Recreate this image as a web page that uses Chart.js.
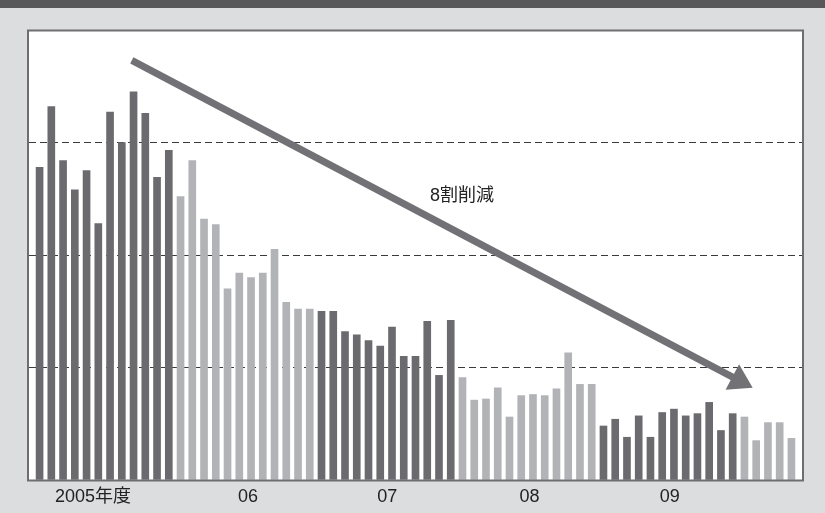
<!DOCTYPE html>
<html>
<head>
<meta charset="utf-8">
<script src="https://cdn.jsdelivr.net/npm/chart.js@4/dist/chart.umd.min.js"></script>
<style>
  html, body { margin: 0; padding: 0; background: #dcdddf; }
  #wrap { width: 825px; height: 513px; }
</style>
</head>
<body>
<div id="wrap"><canvas id="c" width="825" height="513"></canvas></div>
<script>
// Monthly counts per fiscal year (Apr–Mar); FY2010 runs through August
const fiscalYears = ['2005', '2006', '2007', '2008', '2009', '2010'];
const yearLabels = ['2005年度', '06', '07', '08', '09'];
const fy2005 = [278, 332, 284, 258, 275, 228, 327, 300, 345, 326, 269, 293];
const fy2006 = [252, 284, 232, 227, 170, 184, 180, 184, 205, 158, 152, 152];
const fy2007 = [150, 150, 132, 129, 124, 119, 136, 110, 110, 141, 93, 142];
const fy2008 = [91, 71, 72, 82, 56, 75, 76, 75, 81, 113, 85, 85];
const fy2009 = [48, 54, 38, 57, 38, 60, 63, 57, 59, 69, 44, 59];
const fy2010 = [56, 35, 51, 51, 37];
const yearSeries = [fy2005, fy2006, fy2007, fy2008, fy2009, fy2010];
const arrowLabel = '8割削減';

const DARK = '#6b6b6f';
const LIGHT = '#b2b3b7';

// one dataset per fiscal year, placed on a running month index
let monthIndex = 0;
const yearStarts = [];
const datasets = yearSeries.map((vals, k) => {
  yearStarts.push(monthIndex);
  const pts = vals.map(v => ({ x: monthIndex++, y: v }));
  return {
    label: fiscalYears[k],
    data: pts,
    backgroundColor: k % 2 === 0 ? DARK : LIGHT,
    borderWidth: 0,
    barThickness: 7,
    grouped: false
  };
});

// year label positions: middle of each fiscal year's months
const labelNudge = [-0.95, 0.25, 0.1, 0.2, 0.15];
const tickValues = yearLabels.map((_, k) => yearStarts[k] + (yearSeries[k].length - 1) / 2 + labelNudge[k]);

const FONT = "'Liberation Sans', Arial, 'Noto Sans CJK JP', sans-serif";

const framePlugin = {
  id: 'frame',
  beforeDraw(chart) {
    const { ctx, chartArea: a, width } = chart;
    ctx.save();
    ctx.fillStyle = '#dcdddf';
    ctx.fillRect(0, 0, width, chart.height);
    ctx.fillStyle = '#58585a';
    ctx.fillRect(0, 0, width, 8);
    ctx.fillStyle = '#ffffff';
    ctx.fillRect(a.left, a.top, a.right - a.left, a.bottom - a.top);
    ctx.restore();
  },
  afterDatasetsDraw(chart) {
    const { ctx, chartArea: a, scales } = chart;
    const xs = scales.x, ys = scales.y;
    ctx.save();
    // plot frame
    ctx.strokeStyle = '#6e6e72';
    ctx.lineWidth = 2;
    ctx.strokeRect(a.left - 1, a.top + 0.5, a.right - a.left + 2, a.bottom - a.top);

    // downward trend arrow
    const x0 = xs.getPixelForValue(7.85), y0 = ys.getPixelForValue(373);
    const x1 = xs.getPixelForValue(60.7), y1 = ys.getPixelForValue(82);
    const dx = x1 - x0, dy = y1 - y0;
    const len = Math.hypot(dx, dy);
    const ux = dx / len, uy = dy / len;
    const headLen = 23, headHalf = 14.5;
    const bx = x1 - ux * headLen, by = y1 - uy * headLen;
    ctx.strokeStyle = '#727276';
    ctx.fillStyle = '#727276';
    ctx.lineWidth = 7;
    ctx.lineCap = 'butt';
    ctx.beginPath();
    ctx.moveTo(x0, y0);
    ctx.lineTo(bx + ux * 2, by + uy * 2);
    ctx.stroke();
    ctx.beginPath();
    ctx.moveTo(x1, y1);
    ctx.lineTo(bx - uy * headHalf, by + ux * headHalf);
    ctx.lineTo(bx + uy * headHalf, by - ux * headHalf);
    ctx.closePath();
    ctx.fill();

    // arrow caption
    ctx.fillStyle = '#222222';
    ctx.font = "18px 'Liberation Sans', Arial, 'Noto Sans CJK JP', sans-serif";
    ctx.textAlign = 'center';
    ctx.textBaseline = 'middle';
    ctx.fillText(arrowLabel, xs.getPixelForValue(35.96), ys.getPixelForValue(252));
    ctx.restore();
  }
};

new Chart(document.getElementById('c'), {
  type: 'bar',
  data: { datasets },
  options: {
    responsive: false,
    animation: false,
    devicePixelRatio: 1,
    layout: { padding: { left: 29, right: 23, top: 30, bottom: 0 } },
    plugins: { legend: { display: false }, tooltip: { enabled: false } },
    scales: {
      x: {
        type: 'linear',
        offset: false,
        min: -0.9,
        max: 64.9,
        grid: { display: false, drawTicks: false, offset: false },
        border: { display: false },
        afterBuildTicks(scale) {
          scale.ticks = tickValues.map(v => ({ value: v }));
        },
        afterFit(scale) { scale.height = 33; },
        ticks: {
          autoSkip: false,
          maxRotation: 0,
          padding: 6,
          color: '#222222',
          font: { family: FONT, size: 18 },
          callback(value, i) { return yearLabels[i]; }
        }
      },
      y: {
        min: 0,
        max: 400,
        ticks: { display: false, stepSize: 100 },
        afterFit(scale) { scale.width = 0; },
        grid: {
          drawTicks: false,
          lineWidth: 1,
          color: ctx => (ctx.tick && (ctx.tick.value === 0 || ctx.tick.value === 400)) ? 'rgba(0,0,0,0)' : '#3a3a3a'
        },
        border: { display: false, dash: [7, 4] }
      }
    }
  },
  plugins: [framePlugin]
});
</script>
</body>
</html>
